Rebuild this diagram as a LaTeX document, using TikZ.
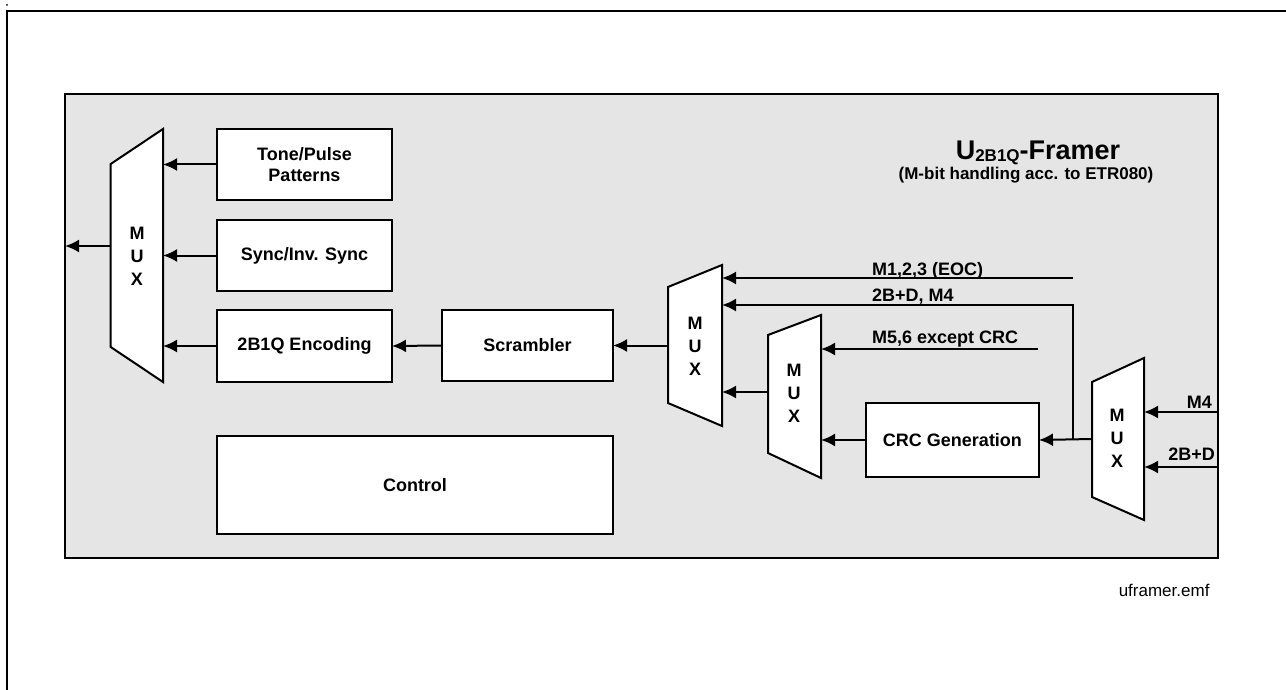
\documentclass[tikz,border=0pt]{standalone}
\usepackage{fontspec}
\setmainfont{Liberation Sans}
\usetikzlibrary{arrows.meta,positioning}
\tikzset{
  framebox/.style={draw,fill=black!10,line width=2.2pt,minimum width=1153pt,minimum height=464pt,inner sep=0pt,outer sep=0pt},
  blk/.style={draw,fill=white,line width=2pt,font=\bfseries\fontsize{18}{21}\selectfont,align=center,inner sep=0pt,outer sep=0pt},
  muxshape/.style={draw,fill=white,line width=2pt,line join=miter},
  muxtxt/.style={font=\bfseries\fontsize{18}{23}\selectfont,align=center,inner sep=0pt},
  lbl/.style={font=\bfseries\fontsize{18}{21}\selectfont,inner sep=0pt},
  wire/.style={line width=2pt},
  arr/.style={line width=2pt,-{Latex[length=14pt,width=13pt]}},
}
\begin{document}
\begin{tikzpicture}[x=1pt,y=-1pt]
    \useasboundingbox (0,0) rectangle (1286,690);

    % Draw the outer frame
    \fill (7,5) circle (1pt);
    \draw[line width=2.4pt] (7,690) -- (7,11) -- (1286,11);

    % Draw the framer block and its title
    \node[framebox] (framer) at (641.5,326) {};
    \node[font=\bfseries\fontsize{27}{30}\selectfont,anchor=base] (title) at (1038,160)
        {U\raisebox{-1.5pt}{\fontsize{17}{17}\selectfont 2B1Q}-Framer};
    \node[font=\bfseries\fontsize{17}{19}\selectfont,inner sep=0pt,anchor=base] (subtitle) at (1026,180)
        {(M-bit handling acc. to ETR080)};

    % Draw the blocks
    \node[blk,minimum width=175pt,minimum height=71pt] (tone) at (304.5,164.5) {Tone/Pulse\\Patterns};
    \node[blk,minimum width=175pt,minimum height=71pt] (sync) at (304.5,255.5) {Sync/Inv. Sync};
    \node[blk,minimum width=175pt,minimum height=72pt] (enc) at (304.5,346) {2B1Q Encoding};
    \node[blk,minimum width=171pt,minimum height=71pt] (scr) at (527.5,345.5) {Scrambler};
    \node[blk,minimum width=173pt,minimum height=74pt] (crc) at (952.5,440) {CRC Generation};
    \node[blk,minimum width=396pt,minimum height=98pt] (ctrl) at (415,485) {Control};

    % Draw the output MUX
    \draw[muxshape] (110.7,164) -- (163,129) -- (163,382) -- (110.7,347) -- cycle;
    \node[muxtxt] (muxA) at (137,256) {M\\U\\X};
    \coordinate (muxAin) at (163,0);
    \coordinate (muxAout) at (110.7,246);

    % Draw the MUX in front of the scrambler
    \draw[muxshape] (668,287) -- (722,265) -- (722,426) -- (668,403) -- cycle;
    \node[muxtxt] (muxB) at (695,346) {M\\U\\X};
    \coordinate (muxBin) at (722,0);
    \coordinate (muxBout) at (668,345.5);

    % Draw the MUX for the M5,6 bits
    \draw[muxshape] (768,335) -- (821,315) -- (821,478) -- (768,453) -- cycle;
    \node[muxtxt] (muxC) at (794,393) {M\\U\\X};
    \coordinate (muxCin) at (821,0);
    \coordinate (muxCout) at (768,392);

    % Draw the input MUX
    \draw[muxshape] (1092,382) -- (1144,358) -- (1144,520) -- (1092,497) -- cycle;
    \node[muxtxt] (muxD) at (1117,438) {M\\U\\X};
    \coordinate (muxDin) at (1144,0);
    \coordinate (muxDout) at (1092,439);

    % Connect the blocks to the output MUX
    \draw[arr] (muxAout) -- (muxAout -| framer.west);
    \draw[arr] (tone.west) -- (tone.west -| muxAin);
    \draw[arr] (sync.west) -- (sync.west -| muxAin);
    \draw[arr] (enc.west) -- (enc.west -| muxAin);
    \draw[arr] (scr.west) -- (enc.east);
    \draw[arr] (muxBout) -- (scr.east);

    % Inputs of the MUX in front of the scrambler
    \coordinate (eoc) at (1073,278);
    \coordinate (junc) at (1073,439);
    \coordinate (bd) at (1073,305);
    \draw[arr] (eoc) -- (eoc -| muxBin);
    \node[lbl,anchor=base west] (eoclbl) at (872,275) {M1,2,3 (EOC)};
    \draw[arr] (junc) -- (bd) -- (bd -| muxBin);
    \node[lbl,anchor=base west] (bdlbl) at (872,301) {2B+D, M4};
    \draw[arr] (muxCout) -- (muxCout -| muxBin);

    % Inputs of the MUX for the M5,6 bits
    \coordinate (mfs) at (1038,349);
    \draw[arr] (mfs) -- (mfs -| muxCin);
    \node[lbl,anchor=base west] (mfslbl) at (872,343) {M5,6 except CRC};
    \draw[arr] (crc.west) -- (crc.west -| muxCin);
    \draw[arr] (muxDout) -- (crc.east);

    % Inputs of the input MUX
    \coordinate (mfour) at (1218,412);
    \coordinate (twobd) at (1218,467);
    \draw[arr] (mfour) -- (mfour -| muxDin);
    \node[lbl,anchor=base east] (mfourlbl) at (1212,408) {M4};
    \draw[arr] (twobd) -- (twobd -| muxDin);
    \node[lbl,anchor=base east] (twobdlbl) at (1215,460) {2B+D};

    % File name
    \node[font=\fontsize{17}{20}\selectfont,anchor=east] (fname) at (1213,590) {uframer.emf};
\end{tikzpicture}
\end{document}
